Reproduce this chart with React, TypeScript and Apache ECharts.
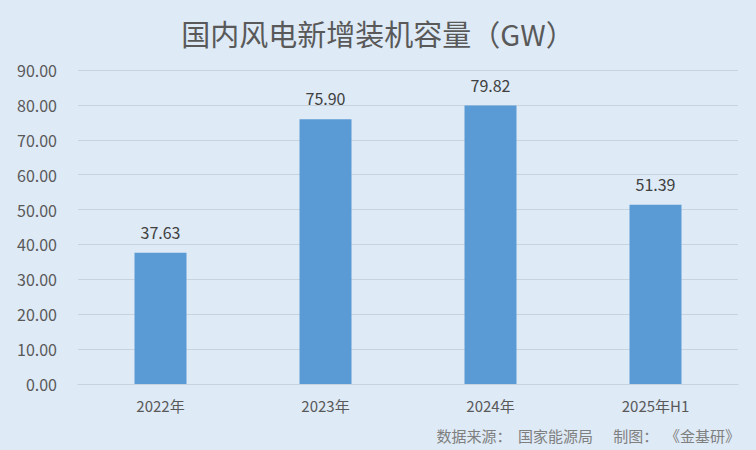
import React, { useEffect, useRef } from "react";
import * as echarts from "echarts";

const categories = ["2022年", "2023年", "2024年", "2025年H1"];
const values = [37.63, 75.9, 79.82, 51.39];
const titleText = "国内风电新增装机容量（GW）";
const sourceText = "数据来源：  国家能源局      制图：  《金基研》";

export default function App() {
  const ref = useRef<HTMLDivElement>(null);
  useEffect(() => {
    const chart = echarts.init(ref.current!, null, { renderer: "svg" });
    const font = "'Microsoft YaHei', 'Noto Sans CJK SC', 'Noto Sans', sans-serif";
    chart.setOption({
      animation: false,
      backgroundColor: "#DEEAF6",
      textStyle: { fontFamily: font },
      title: {
        text: titleText,
        left: "center",
        top: 13,
        textStyle: { fontSize: 29, fontWeight: "normal", color: "#595959", fontFamily: font },
      },
      graphic: [
        {
          type: "text",
          right: 16,
          top: 428,
          style: { text: sourceText, fontSize: 15, fill: "#7F7F7F", fontFamily: font },
        },
      ],
      grid: { left: 78, right: 18, top: 70, bottom: 66 },
      xAxis: {
        type: "category",
        data: categories,
        axisTick: { show: false },
        axisLine: { lineStyle: { color: "#C8D3DE" } },
        axisLabel: { fontSize: 15, color: "#595959", margin: 14 },
      },
      yAxis: {
        type: "value",
        min: 0,
        max: 90,
        interval: 10,
        axisLabel: {
          fontSize: 16,
          color: "#595959",
          margin: 21,
          formatter: (v: number) => v.toFixed(2),
        },
        splitLine: { lineStyle: { color: "#C8D3DE" } },
      },
      series: [
        {
          type: "bar",
          data: values,
          barWidth: 52,
          itemStyle: { color: "#5B9BD5" },
          label: {
            show: true,
            position: "top",
            distance: 13,
            fontSize: 16,
            color: "#404040",
            formatter: (p: any) => p.value.toFixed(2),
          },
        },
      ],
    });
    return () => chart.dispose();
  }, []);
  return <div ref={ref} style={{ width: 756, height: 450, position: "fixed", left: 0, top: 0 }} />;
}
